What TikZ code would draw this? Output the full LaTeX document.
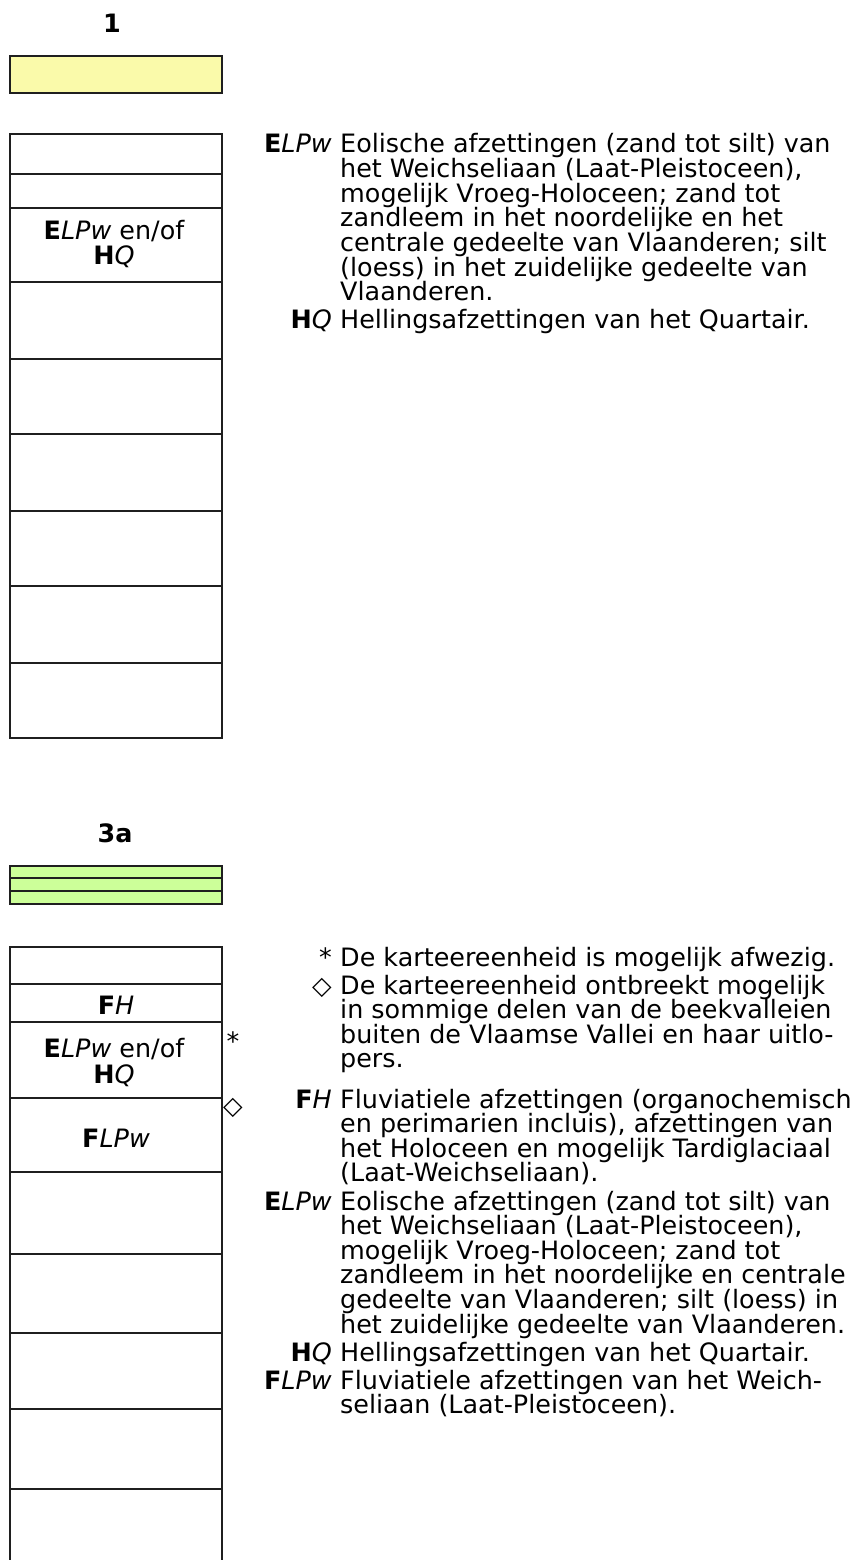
\documentclass[tikz,border=0pt]{standalone}
\usepackage{fontspec}
\setmainfont{DejaVu Sans}[FakeStretch=1.005]
\definecolor{unitA}{RGB}{250,250,170}
\definecolor{unitB}{RGB}{204,255,153}
\newcommand\unitELPw{\textbf{E}\textit{LPw}}
\newcommand\unitHQ{\textbf{H}\textit{Q}}
\newcommand\unitFH{\textbf{F}\textit{H}}
\newcommand\unitFLPw{\textbf{F}\textit{LPw}}
\begin{document}
\begin{tikzpicture}[x=1pt,y=-1pt,
  rule/.style={draw=black!88, line width=1.5pt},
  txt/.style={inner sep=0pt, font=\fontsize{25.3}{24.6}\selectfont},
  ln/.style={txt, anchor=base west},
  key/.style={txt, anchor=base east},
  cellname/.style={txt, anchor=base},
  title/.style={txt, anchor=base, font=\fontsize{25.3}{24.6}\selectfont\bfseries}]
\useasboundingbox (0,0) rectangle (855,1560);

% titles of the two profiles
\node[title] (t1) at (112,33) {1};
\node[title] (t3a) at (115,842) {3a};

% colour strips
\draw[rule, fill=unitA] (10,56) rectangle (222,93);
\draw[rule, fill=unitB] (10,866) rectangle (222,904);
\foreach \y in {878,891} \draw[rule] (10,\y) -- (222,\y);

% profile 1
\draw[rule] (10,134) rectangle (222,738);
\foreach \y in {174,208,282,359,434,511,586,663} \draw[rule] (10,\y) -- (222,\y);
\node[cellname] (c1a) at (114,239) {\unitELPw{} en/of};
\node[cellname] (c1b) at (114,264) {\unitHQ};

% profile 3a
\draw[rule] (10,1560) -- (10,947) -- (222,947) -- (222,1560);
\foreach \y in {984,1022,1098,1172,1254,1333,1409,1489} \draw[rule] (10,\y) -- (222,\y);
\node[cellname] (c3a) at (116,1014) {\unitFH};
\node[cellname] (c3b) at (114,1057) {\unitELPw{} en/of};
\node[cellname] (c3c) at (114,1083) {\unitHQ};
\node[cellname] (c3d) at (116,1147) {\unitFLPw};
\node[txt, anchor=base] (mstar) at (233,1050) {*};
\node[txt, anchor=center] (mdiam) at (233,1108) {◇};

% legend of profile 1
\node[key] (k1a) at (332,153) {\unitELPw};
\node[ln] (l1a1) at (340,153.0) {Eolische afzettingen (zand tot silt) van};
\node[ln] (l1a2) at (340,177.6) {het Weichseliaan (Laat-Pleistoceen),};
\node[ln] (l1a3) at (340,202.2) {mogelijk Vroeg-Holoceen; zand tot};
\node[ln] (l1a4) at (340,226.8) {zandleem in het noordelijke en het};
\node[ln] (l1a5) at (340,251.4) {centrale gedeelte van Vlaanderen; silt};
\node[ln] (l1a6) at (340,276.0) {(loess) in het zuidelijke gedeelte van};
\node[ln] (l1a7) at (340,300.6) {Vlaanderen.};
\node[key] (k1b) at (332,328.6) {\unitHQ};
\node[ln] (l1b1) at (340,328.6) {Hellingsafzettingen van het Quartair.};

% legend of profile 3a
\node[key] (k3a) at (332,966) {*};
\node[ln] (l3a1) at (340,966) {De karteereenheid is mogelijk afwezig.};
\node[key] (k3b) at (332,994) {◇};
\node[ln] (l3b1) at (340,994.0) {De karteereenheid ontbreekt mogelijk};
\node[ln] (l3b2) at (340,1018.6) {in sommige delen van de beekvalleien};
\node[ln] (l3b3) at (340,1043.2) {buiten de Vlaamse Vallei en haar uitlo-};
\node[ln] (l3b4) at (340,1067.8) {pers.};
\node[key] (k3c) at (332,1108) {\unitFH};
\node[ln] (l3c1) at (340,1108.0) {Fluviatiele afzettingen (organochemisch};
\node[ln] (l3c2) at (340,1132.6) {en perimarien incluis), afzettingen van};
\node[ln] (l3c3) at (340,1157.2) {het Holoceen en mogelijk Tardiglaciaal};
\node[ln] (l3c4) at (340,1181.8) {(Laat-Weichseliaan).};
\node[key] (k3d) at (332,1210) {\unitELPw};
\node[ln] (l3d1) at (340,1210.0) {Eolische afzettingen (zand tot silt) van};
\node[ln] (l3d2) at (340,1234.6) {het Weichseliaan (Laat-Pleistoceen),};
\node[ln] (l3d3) at (340,1259.2) {mogelijk Vroeg-Holoceen; zand tot};
\node[ln] (l3d4) at (340,1283.8) {zandleem in het noordelijke en centrale};
\node[ln] (l3d5) at (340,1308.4) {gedeelte van Vlaanderen; silt (loess) in};
\node[ln] (l3d6) at (340,1333.0) {het zuidelijke gedeelte van Vlaanderen.};
\node[key] (k3e) at (332,1361) {\unitHQ};
\node[ln] (l3e1) at (340,1361) {Hellingsafzettingen van het Quartair.};
\node[key] (k3f) at (332,1389) {\unitFLPw};
\node[ln] (l3f1) at (340,1389.0) {Fluviatiele afzettingen van het Weich-};
\node[ln] (l3f2) at (340,1413.6) {seliaan (Laat-Pleistoceen).};
\end{tikzpicture}
\end{document}
